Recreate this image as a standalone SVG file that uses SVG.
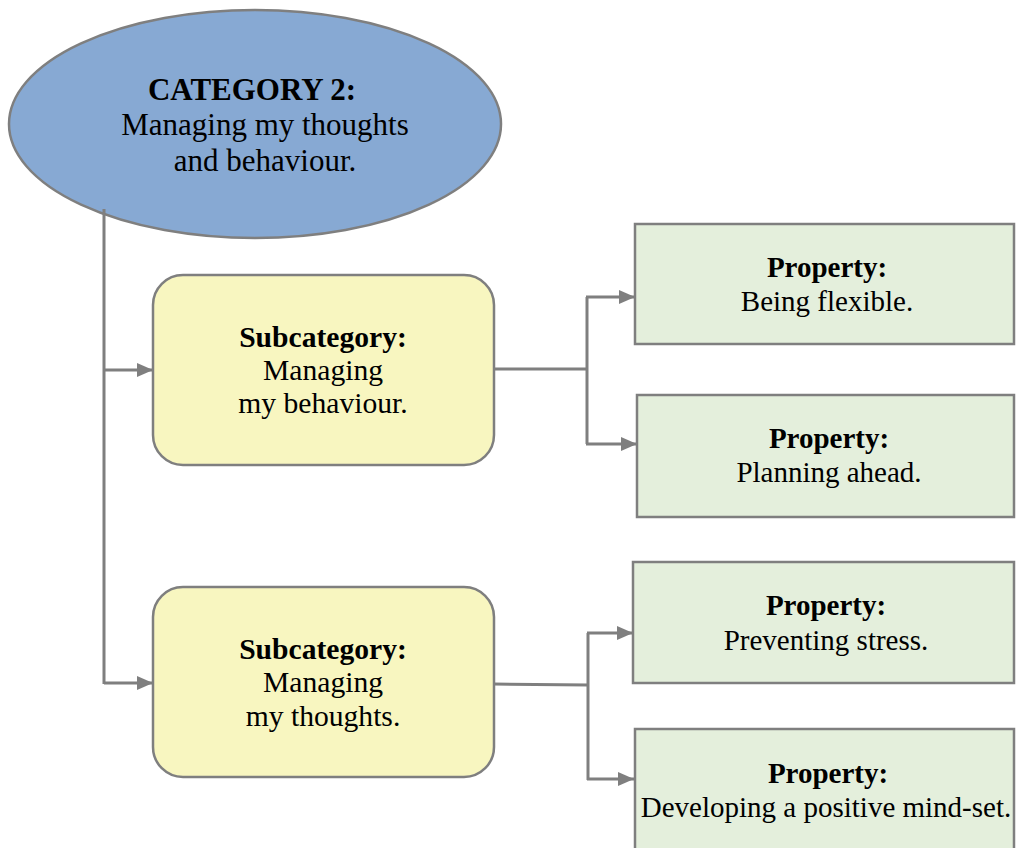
<svg xmlns="http://www.w3.org/2000/svg" width="1017" height="848" viewBox="0 0 1017 848">
  <style>
    text { font-family: "Liberation Serif", "Times New Roman", serif; font-size: 29px; fill: #000; text-anchor: middle; }
    .b { font-weight: bold; }
    .big { font-size: 31px; }
    .mid { font-size: 29.6px; }
    .cat { fill: #87a9d3; stroke: #7f7f7f; stroke-width: 2.5; }
    .sub { fill: #f8f6c0; stroke: #7f7f7f; stroke-width: 2.5; }
    .prop { fill: #e4efdc; stroke: #7f7f7f; stroke-width: 2.5; }
    .link { fill: none; stroke: #7f7f7f; stroke-width: 3; }
  </style>
  <defs>
    <marker id="arrow" viewBox="0 0 16 14" refX="16" refY="7" markerWidth="16" markerHeight="14" markerUnits="userSpaceOnUse" orient="auto">
      <path d="M0,0 L16,7 L0,14 Z" fill="#7f7f7f"/>
    </marker>
  </defs>

  <!-- category -->
  <g id="category">
    <ellipse class="cat" cx="255" cy="124" rx="246" ry="114"/>
    <text class="b big" x="252" y="100">CATEGORY 2:</text>
    <text class="big" x="265" y="135">Managing my thoughts</text>
    <text class="big" x="265" y="171">and behaviour.</text>
  </g>

  <!-- connectors -->
  <g id="connectors">
    <path class="link" d="M104,209 V684"/>
    <path class="link" d="M104,370 H153" marker-end="url(#arrow)"/>
    <path class="link" d="M104,683 H153" marker-end="url(#arrow)"/>
    <path class="link" d="M494,369 H587"/>
    <path class="link" d="M587,297 V444"/>
    <path class="link" d="M586,297 H635" marker-end="url(#arrow)"/>
    <path class="link" d="M586,444 H637" marker-end="url(#arrow)"/>
    <path class="link" d="M494,684 L588,685"/>
    <path class="link" d="M588,633 V780"/>
    <path class="link" d="M587,633 H633" marker-end="url(#arrow)"/>
    <path class="link" d="M587,779 H634" marker-end="url(#arrow)"/>
  </g>

  <!-- subcategories -->
  <g id="sub-behaviour">
    <rect class="sub" x="153" y="275" width="341" height="190" rx="30"/>
    <text class="b mid" x="323" y="347">Subcategory:</text>
    <text class="mid" x="323" y="380">Managing</text>
    <text class="mid" x="323" y="413">my behaviour.</text>
  </g>
  <g id="sub-thoughts">
    <rect class="sub" x="153" y="587" width="341" height="190" rx="30"/>
    <text class="b mid" x="323" y="659">Subcategory:</text>
    <text class="mid" x="323" y="692">Managing</text>
    <text class="mid" x="323" y="726">my thoughts.</text>
  </g>

  <!-- properties -->
  <g id="prop-flexible">
    <rect class="prop" x="635" y="224" width="379" height="120"/>
    <text class="b" x="827" y="277">Property:</text>
    <text x="827" y="311">Being flexible.</text>
  </g>
  <g id="prop-planning">
    <rect class="prop" x="637" y="395" width="377" height="122"/>
    <text class="b" x="829" y="448">Property:</text>
    <text x="829" y="482">Planning ahead.</text>
  </g>
  <g id="prop-stress">
    <rect class="prop" x="633" y="562" width="381" height="121"/>
    <text class="b" x="826" y="615">Property:</text>
    <text x="826" y="650">Preventing stress.</text>
  </g>
  <g id="prop-mindset">
    <rect class="prop" x="635" y="729" width="379" height="130"/>
    <text class="b" x="828" y="783">Property:</text>
    <text x="826" y="817">Developing a positive mind-set.</text>
  </g>
</svg>
